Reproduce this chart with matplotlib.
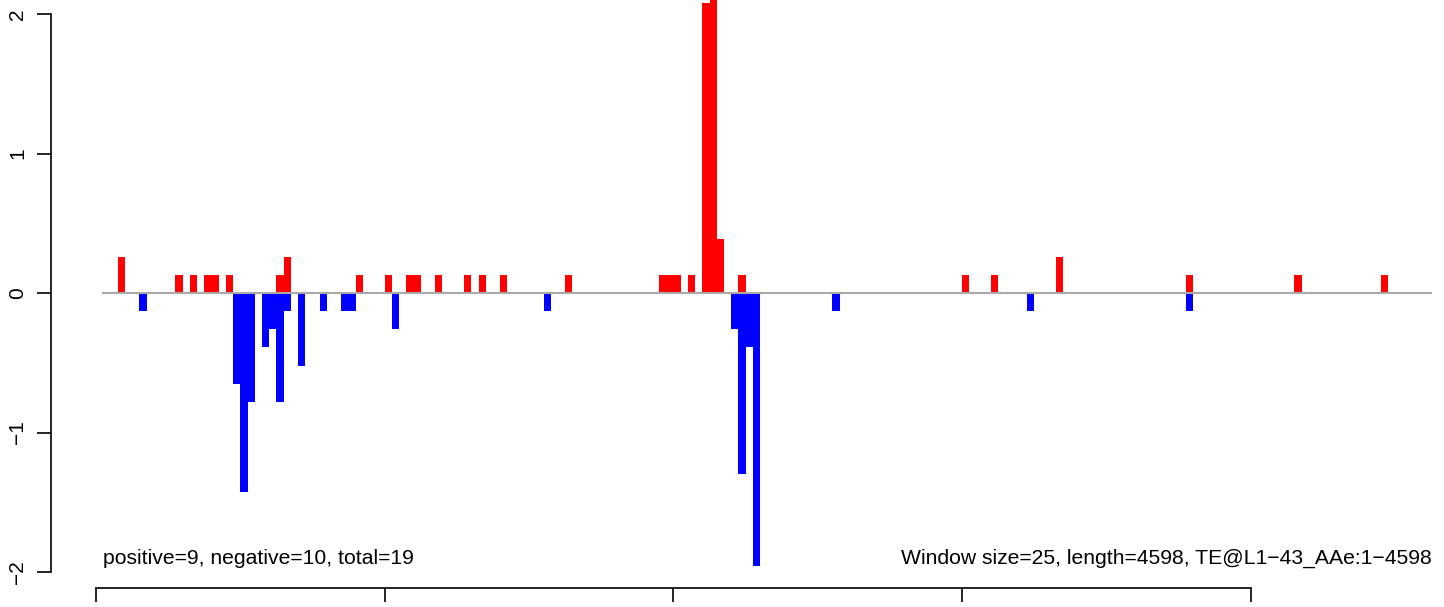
import matplotlib
matplotlib.use("Agg")
import matplotlib.pyplot as plt

plt.rcParams['font.family'] = ['Liberation Sans', 'DejaVu Sans']

# window starts (bp) and values, window size 25
pos_start = [75, 275, 325, 375, 400, 450, 625, 650, 900, 1000, 1075, 1100,
             1175, 1275, 1325, 1400, 1625, 1950, 1975, 2000, 2050, 2100,
             2125, 2150, 2225, 3000, 3100, 3325, 3775, 4150, 4450]
pos_value = [0.26, 0.13, 0.13, 0.13, 0.13, 0.13, 0.13, 0.26, 0.13, 0.13, 0.13, 0.13,
             0.13, 0.13, 0.13, 0.13, 0.13, 0.13, 0.13, 0.13, 0.13, 2.08,
             2.21, 0.39, 0.13, 0.13, 0.13, 0.26, 0.13, 0.13, 0.13]
neg_start = [150, 475, 500, 525, 575, 600, 625, 650, 700, 775, 850, 875,
             1025, 1550, 2200, 2225, 2250, 2275, 2550, 3225, 3775]
neg_value = [-0.13, -0.65, -1.43, -0.78, -0.39, -0.26, -0.78, -0.13, -0.52, -0.13, -0.13, -0.13,
             -0.26, -0.13, -0.26, -1.30, -0.39, -1.96, -0.13, -0.13, -0.13]
window = 25
length = 4598
xticks = [0, 1000, 2000, 3000, 4000]
yticks = [-2, -1, 0, 1, 2]
left_label = "positive=9, negative=10, total=19"
right_label = "Window size=25, length=4598, TE@L1\u221243_AAe:1\u22124598"

fig = plt.figure(figsize=(14.44, 6.07), dpi=100)
ax = fig.add_axes([0, 0, 1, 1])

# pixel calibration: x 0bp at 96px, 288.75px per 1000bp; y 0 at 293px, 139.5px per unit
pxbp = 0.28875
ax.set_xlim(-96 / pxbp, (1444 - 96) / pxbp)
ax.set_ylim((293 - 607) / 139.5, 293 / 139.5)

ax.bar(pos_start, pos_value, width=window, align='edge', color='#FF0000', linewidth=0, zorder=2)
ax.bar(neg_start, neg_value, width=window, align='edge', color='#0000FF', linewidth=0, zorder=2)
ax.plot([window, length + 27], [0, 0], color='#A9A9A9', lw=1.5, zorder=3)

for s in ['top', 'right']:
    ax.spines[s].set_visible(False)
ax.spines['left'].set_position(('data', (51 - 96) / pxbp))
ax.spines['left'].set_bounds(-2, 2)
ax.spines['bottom'].set_position(('data', (293 - 588) / 139.5))
ax.spines['bottom'].set_bounds(0, 4000)
for s in ['left', 'bottom']:
    ax.spines[s].set_linewidth(1.2)

ax.set_yticks(yticks)
ax.set_xticks(xticks)
ax.set_xticklabels([])
ax.tick_params(axis='both', direction='out', length=10, width=1.2, labelsize=15)
ax.tick_params(axis='y', labelrotation=90, pad=7)
for lab in ax.get_yticklabels():
    lab.set_va('center')

ax.text(window, (293 - 564) / 139.5, left_label, ha='left', va='baseline', fontsize=15.2)
ax.text(length + 27, (293 - 564) / 139.5, right_label, ha='right', va='baseline', fontsize=15.2)

fig.savefig('out.png', dpi=100)
